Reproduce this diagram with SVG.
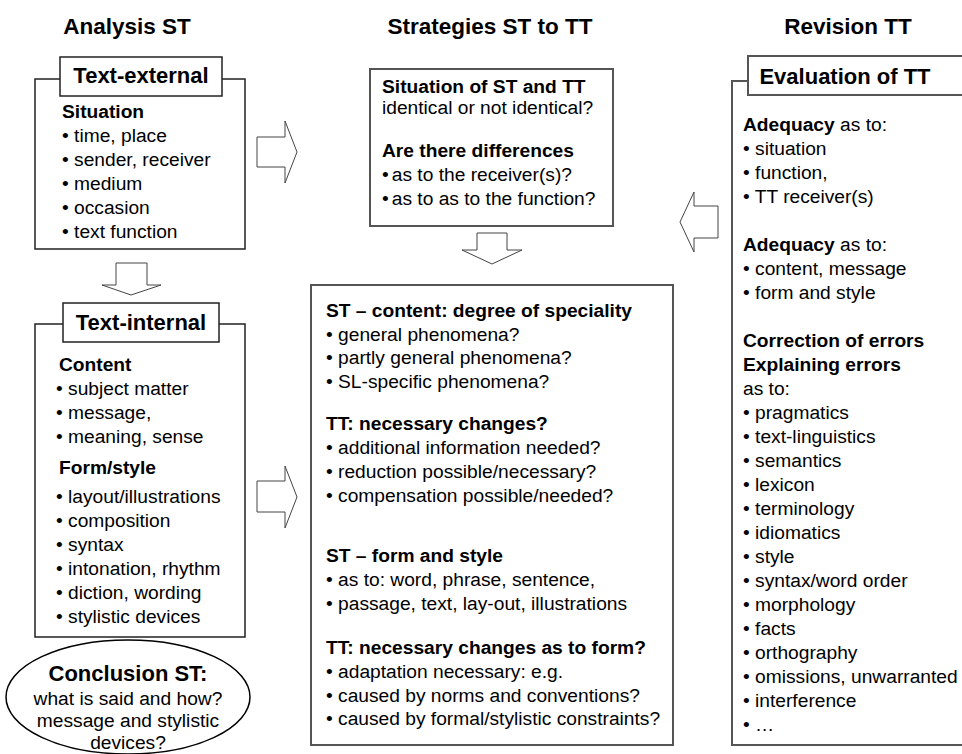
<svg xmlns="http://www.w3.org/2000/svg" width="962" height="754" viewBox="0 0 962 754">
  <style>
    text { font-family: "Liberation Sans", Arial, sans-serif; fill: #000; }
    .h { font-size: 22.5px; font-weight: bold; text-anchor: middle; }
    .lab { font-size: 22px; font-weight: bold; text-anchor: middle; }
    .t { font-size: 19.2px; }
    .b { font-weight: bold; }
    .c { text-anchor: middle; }
    .box { fill: #fff; stroke: #222; stroke-width: 1.5; }
    .gbox { fill: #fff; stroke: #555; stroke-width: 2; }
    .frame { fill: none; stroke: #222; stroke-width: 1.5; }
    .gframe { fill: none; stroke: #555; stroke-width: 2; }
    .arrow { fill: #fff; stroke: #444; stroke-width: 1; }
  </style>

  <!-- column headings -->
  <g id="headings">
    <text class="h" x="127" y="34">Analysis ST</text>
    <text class="h" x="490" y="34">Strategies ST to TT</text>
    <text class="h" x="848" y="34">Revision TT</text>
  </g>

  <!-- Text-external -->
  <g id="text-external">
    <path class="frame" d="M60 79 H35 V249 H245 V79 H222"/>
    <rect class="box" x="60" y="57" width="162" height="39"/>
    <text class="lab" x="141" y="83">Text-external</text>
    <text class="t" x="62" y="118"><tspan class="b">Situation</tspan></text>
    <text class="t" x="62" y="142">• time, place</text>
    <text class="t" x="62" y="166">• sender, receiver</text>
    <text class="t" x="62" y="190">• medium</text>
    <text class="t" x="62" y="214">• occasion</text>
    <text class="t" x="62" y="238">• text function</text>
  </g>

  <!-- Text-internal -->
  <g id="text-internal">
    <path class="frame" d="M63 324 H35 V637 H245 V324 H219"/>
    <rect class="box" x="63" y="303" width="156" height="39"/>
    <text class="lab" x="141" y="330">Text-internal</text>
    <text class="t b" x="59" y="371">Content</text>
    <text class="t" x="56" y="395">• subject matter</text>
    <text class="t" x="56" y="419">• message,</text>
    <text class="t" x="56" y="443">• meaning, sense</text>
    <text class="t b" x="59" y="474">Form/style</text>
    <text class="t" x="56" y="503">• layout/illustrations</text>
    <text class="t" x="56" y="527">• composition</text>
    <text class="t" x="56" y="551">• syntax</text>
    <text class="t" x="56" y="575">• intonation, rhythm</text>
    <text class="t" x="56" y="599">• diction, wording</text>
    <text class="t" x="56" y="623">• stylistic devices</text>
  </g>

  <!-- Conclusion ST -->
  <g id="conclusion">
    <ellipse cx="128" cy="697" rx="122" ry="57" fill="#fff" stroke="#000" stroke-width="1.5"/>
    <text class="lab" x="128" y="681">Conclusion ST:</text>
    <text class="t c" x="128" y="705">what is said and how?</text>
    <text class="t c" x="128" y="727">message and stylistic</text>
    <text class="t c" x="128" y="749">devices?</text>
  </g>

  <!-- Situation of ST and TT -->
  <g id="situation">
    <rect class="gbox" x="370" y="69" width="243" height="157"/>
    <text class="t b" x="382" y="93">Situation of ST and TT</text>
    <text class="t" x="382" y="114">identical or not identical?</text>
    <text class="t b" x="382" y="157">Are there differences</text>
    <text class="t" x="382" y="181">•<tspan dx="3">as to the receiver(s)?</tspan></text>
    <text class="t" x="382" y="205">•<tspan dx="3">as to as to the function?</tspan></text>
  </g>

  <!-- Strategies -->
  <g id="strategies">
    <rect class="gbox" x="311" y="285" width="362" height="460"/>
    <text class="t b" x="326" y="317">ST – content: degree of speciality</text>
    <text class="t" x="326" y="341">• general phenomena?</text>
    <text class="t" x="326" y="364">• partly general phenomena?</text>
    <text class="t" x="326" y="388">• SL-specific phenomena?</text>
    <text class="t b" x="326" y="430">TT: necessary changes?</text>
    <text class="t" x="326" y="454">• additional information needed?</text>
    <text class="t" x="326" y="478">• reduction possible/necessary?</text>
    <text class="t" x="326" y="502">• compensation possible/needed?</text>
    <text class="t b" x="326" y="562">ST – form and style</text>
    <text class="t" x="326" y="586">• as to: word, phrase, sentence,</text>
    <text class="t" x="326" y="610">• passage, text, lay-out, illustrations</text>
    <text class="t b" x="326" y="654">TT: necessary changes as to form?</text>
    <text class="t" x="326" y="678">• adaptation necessary: e.g.</text>
    <text class="t" x="326" y="702">• caused by norms and conventions?</text>
    <text class="t" x="326" y="725">• caused by formal/stylistic constraints?</text>
  </g>

  <!-- Evaluation of TT -->
  <g id="evaluation">
    <path class="gframe" d="M748 81 H732 V745 H970"/>
    <rect class="gbox" x="748" y="56" width="222" height="39"/>
    <text class="lab" x="845" y="84">Evaluation of TT</text>
    <text class="t" x="743" y="131"><tspan class="b">Adequacy</tspan> as to:</text>
    <text class="t" x="743" y="155">• situation</text>
    <text class="t" x="743" y="179">• function,</text>
    <text class="t" x="743" y="203">• TT receiver(s)</text>
    <text class="t" x="743" y="251"><tspan class="b">Adequacy</tspan> as to:</text>
    <text class="t" x="743" y="275">• content, message</text>
    <text class="t" x="743" y="299">• form and style</text>
    <text class="t b" x="743" y="347">Correction of errors</text>
    <text class="t b" x="743" y="371">Explaining errors</text>
    <text class="t" x="743" y="395">as to:</text>
    <text class="t" x="743" y="419">• pragmatics</text>
    <text class="t" x="743" y="443">• text-linguistics</text>
    <text class="t" x="743" y="467">• semantics</text>
    <text class="t" x="743" y="491">• lexicon</text>
    <text class="t" x="743" y="515">• terminology</text>
    <text class="t" x="743" y="539">• idiomatics</text>
    <text class="t" x="743" y="563">• style</text>
    <text class="t" x="743" y="587">• syntax/word order</text>
    <text class="t" x="743" y="611">• morphology</text>
    <text class="t" x="743" y="635">• facts</text>
    <text class="t" x="743" y="659">• orthography</text>
    <text class="t" x="743" y="683">• omissions, unwarranted</text>
    <text class="t" x="743" y="707">• interference</text>
    <text class="t" x="743" y="731">• …</text>
  </g>

  <!-- block arrows between stages -->
  <g id="connectors">
    <path class="arrow" d="M116 263 H147 V285 H161 L131 295 L102 285 H116 Z"/>
    <path class="arrow" d="M257 137 H285 V121 L297 152 L285 183 V167 H257 Z"/>
    <path class="arrow" d="M257 481 H285 V466 L297 497 L285 528 V512 H257 Z"/>
    <path class="arrow" d="M477 233 H507 V250 H522 L492 264 L462 250 H477 Z"/>
    <path class="arrow" d="M718 206 H694 V192 L680 222 L694 252 V238 H718 Z"/>
  </g>
</svg>
